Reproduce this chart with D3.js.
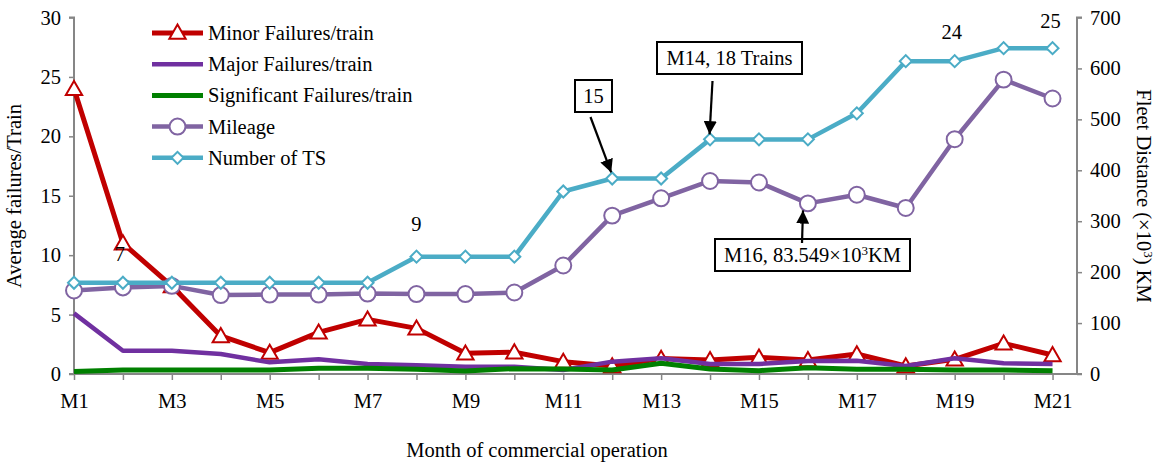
<!DOCTYPE html>
<html><head><meta charset="utf-8">
<script src="https://cdn.jsdelivr.net/npm/d3@7"></script>
<style>body{margin:0;background:#fff}svg{display:block}text{font-family:"Liberation Serif","Times New Roman",serif;fill:#000}</style>
</head><body>
<svg id="c" width="1159" height="464"></svg>
<script>
const months = d3.range(1, 22).map(i => "M" + i);
const minorFailures = [24, 11, 7.4, 3.2, 1.8, 3.5, 4.6, 3.84, 1.74, 1.83, 1.04, 0.67, 1.3, 1.18, 1.4, 1.18, 1.68, 0.67, 1.23, 2.58, 1.6];
const majorFailures = [5.1, 1.96, 1.96, 1.68, 0.98, 1.24, 0.84, 0.73, 0.62, 0.62, 0.34, 1.04, 1.32, 0.84, 0.84, 1.09, 1.12, 0.67, 1.32, 0.9, 0.84];
const significantFailures = [0.2, 0.34, 0.34, 0.34, 0.34, 0.48, 0.48, 0.4, 0.25, 0.45, 0.42, 0.34, 0.9, 0.42, 0.28, 0.53, 0.39, 0.39, 0.34, 0.34, 0.28];
const mileage = [164, 170, 173, 155, 156, 156, 158, 157, 157, 160, 213, 311, 345, 379, 376, 335, 352, 326, 461, 578, 541];
const numberOfTS = [7, 7, 7, 7, 7, 7, 7, 9, 9, 9, 14, 15, 15, 18, 18, 18, 20, 24, 24, 25, 25];
const leftTicks = [0, 5, 10, 15, 20, 25, 30];
const rightTicks = [0, 100, 200, 300, 400, 500, 600, 700];
const tsLabels = [{m: 2, t: "7"}, {m: 8, t: "9"}, {m: 19, t: "24"}, {m: 21, t: "25"}];

const FS = "20.5px";
const svg = d3.select("#c");
const x = d3.scaleLinear().domain([1, 21.5]).range([74, 1077]);
const yL = d3.scaleLinear().domain([0, 30]).range([374, 17.5]);
const yR = d3.scaleLinear().domain([0, 700]).range([374, 17.5]);
const yTS = d3.scaleLinear().domain([0, 27.35]).range([374, 17.5]);

const gray = "#868686";
const axL = svg.append("g").attr("transform", "translate(74,0)")
  .call(d3.axisLeft(yL).tickValues(leftTicks).tickSize(5).tickPadding(8));
const axR = svg.append("g").attr("transform", "translate(1077,0)")
  .call(d3.axisRight(yR).tickValues(rightTicks).tickSize(5).tickPadding(8));
const axB = svg.append("g").attr("transform", "translate(0,374)")
  .call(d3.axisBottom(x).tickValues(d3.range(1, 22)).tickSize(6).tickPadding(13)
    .tickFormat(d => d % 2 === 1 ? months[d - 1] : ""));
[axL, axR, axB].forEach(g => {
  g.selectAll("path.domain").attr("stroke", gray).attr("stroke-width", 2);
  g.selectAll(".tick line").attr("stroke", gray).attr("stroke-width", 1.5);
  g.selectAll("text").style("font-size", FS).style("font-family", '"Liberation Serif",serif');
});
axR.select("path.domain").attr("d", "M5,374H0V17.5H5");
axL.select("path.domain").attr("d", "M-5,374H0V17.5H-5");
axB.select("path.domain").attr("d", "M74,0H1077");

svg.append("text").attr("transform", "translate(21,196) rotate(-90)").attr("text-anchor", "middle")
  .style("font-size", FS).text("Average failures/Train");
const rt = svg.append("text").attr("transform", "translate(1137,196) rotate(90)").attr("text-anchor", "middle")
  .style("font-size", FS);
rt.append("tspan").text("Fleet Distance (×10");
rt.append("tspan").attr("dy", -7).style("font-size", "13px").text("3");
rt.append("tspan").attr("dy", 7).text(") KM");
svg.append("text").attr("x", 537).attr("y", 457).attr("text-anchor", "middle")
  .style("font-size", FS).text("Month of commercial operation");

const line = (ys) => d3.line().x((d, i) => x(i + 1)).y(d => ys(d));
const series = [
  {name: "Minor Failures/train", data: minorFailures, ys: yL, color: "#C00000", w: 5, marker: "triangle"},
  {name: "Major Failures/train", data: majorFailures, ys: yL, color: "#7030A0", w: 4.5, marker: null},
  {name: "Significant Failures/train", data: significantFailures, ys: yL, color: "#008000", w: 5, marker: null},
  {name: "Mileage", data: mileage, ys: yR, color: "#8064A2", w: 4.5, marker: "circle"},
  {name: "Number of TS", data: numberOfTS, ys: yTS, color: "#4BACC6", w: 4.5, marker: "diamond"}
];
const sym = {
  triangle: d3.symbol().type(d3.symbolTriangle).size(115),
  circle: d3.symbol().type(d3.symbolCircle).size(200),
  diamond: d3.symbol().type(d3.symbolSquare).size(72)
};
const rot = m => m === "diamond" ? " rotate(45)" : "";
series.forEach(s => {
  svg.append("path").datum(s.data).attr("d", line(s.ys)).attr("fill", "none")
    .attr("stroke", s.color).attr("stroke-width", s.w).attr("stroke-linejoin", "round");
  if (s.marker) {
    svg.append("g").selectAll("path").data(s.data).join("path")
      .attr("transform", (d, i) => `translate(${x(i + 1)},${s.ys(d) + (s.marker === "triangle" ? 1.5 : 0)})${rot(s.marker)}`)
      .attr("d", sym[s.marker]()).attr("fill", "#fff").attr("stroke", s.color).attr("stroke-width", 2);
  }
});

series.forEach((s, i) => {
  const yy = 33 + i * 31.2;
  svg.append("line").attr("x1", 152).attr("x2", 203).attr("y1", yy).attr("y2", yy)
    .attr("stroke", s.color).attr("stroke-width", s.w);
  if (s.marker) svg.append("path").attr("transform", `translate(177.5,${yy + (s.marker === "triangle" ? 1 : 0)})${rot(s.marker)}`)
    .attr("d", sym[s.marker]()).attr("fill", "#fff").attr("stroke", s.color).attr("stroke-width", 2);
  svg.append("text").attr("x", 208).attr("y", yy + 7).style("font-size", FS).text(s.name);
});

const lblOff = {2: [-3, -22], 8: [0, -26], 19: [-3, -22], 21: [-2, -20]};
tsLabels.forEach(l => {
  svg.append("text").attr("x", x(l.m) + lblOff[l.m][0]).attr("y", yTS(numberOfTS[l.m - 1]) + lblOff[l.m][1])
    .attr("text-anchor", "middle").style("font-size", FS).text(l.t);
});

svg.append("defs").append("marker").attr("id", "ah").attr("viewBox", "0 0 10 10").attr("refX", 10).attr("refY", 5)
  .attr("markerWidth", 6).attr("markerHeight", 6).attr("markerUnits", "strokeWidth").attr("orient", "auto")
  .append("path").attr("d", "M0,0L10,5L0,10z").attr("fill", "#000");
function box(x0, y0, w, h) {
  svg.append("rect").attr("x", x0).attr("y", y0).attr("width", w).attr("height", h)
    .attr("fill", "#fff").attr("stroke", "#000").attr("stroke-width", 2);
}
function arrow(x1, y1, x2, y2) {
  svg.append("line").attr("x1", x1).attr("y1", y1).attr("x2", x2).attr("y2", y2)
    .attr("stroke", "#000").attr("stroke-width", 2.2).attr("marker-end", "url(#ah)");
}
box(575, 80, 37, 32);
svg.append("text").attr("x", 593.5).attr("y", 103).attr("text-anchor", "middle").style("font-size", FS).text("15");
arrow(590.5, 117, x(12) - 1, yTS(15) - 6);
box(657, 42, 145, 32);
svg.append("text").attr("x", 729.5).attr("y", 65).attr("text-anchor", "middle").style("font-size", FS).text("M14, 18 Trains");
arrow(712.5, 81, x(14) - 0.5, yTS(18) - 5);
box(715, 239, 195, 32);
const t3 = svg.append("text").attr("x", 812.5).attr("y", 262).attr("text-anchor", "middle").style("font-size", FS);
t3.append("tspan").text("M16, 83.549×10");
t3.append("tspan").attr("dy", -7).style("font-size", "13px").text("3");
t3.append("tspan").attr("dy", 7).text("KM");
arrow(802, 243, 803, yR(mileage[15]) + 7);
</script>
</body></html>
